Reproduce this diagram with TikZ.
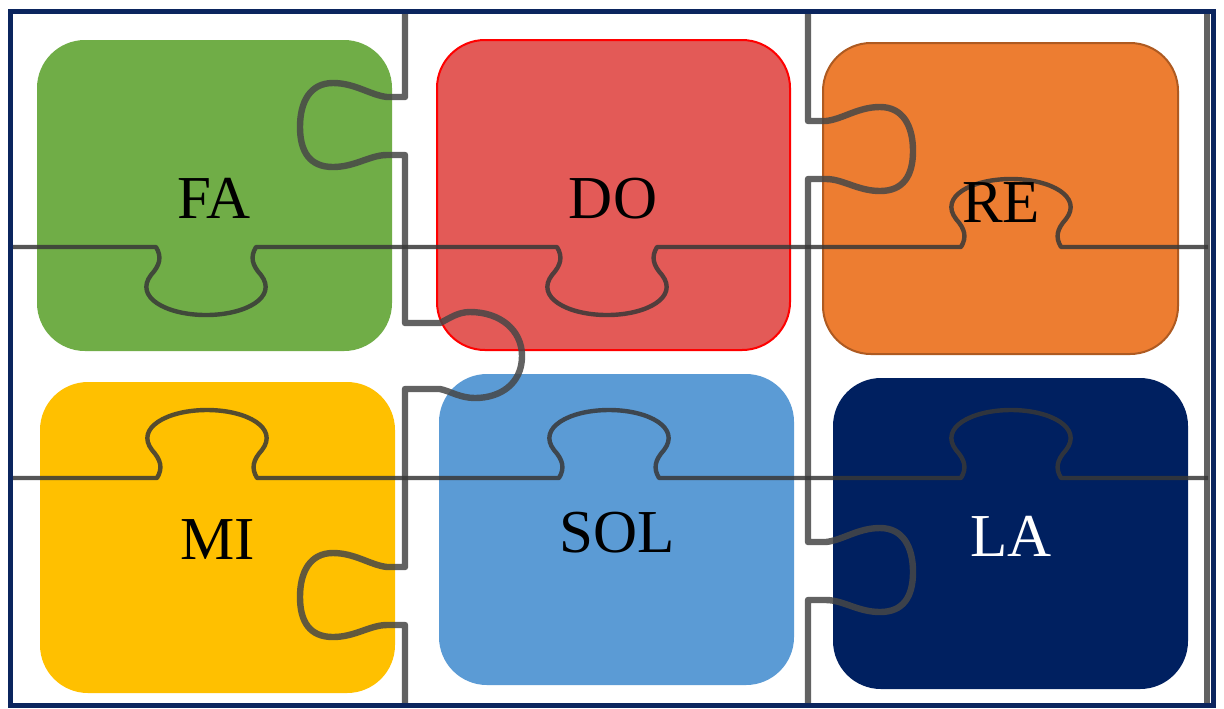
\documentclass[tikz,border=0pt]{standalone}
\usepackage{fontspec}
\setmainfont{Liberation Serif}
\definecolor{cgreen}{HTML}{70AD47}
\definecolor{cred}{HTML}{E35A57}
\definecolor{credline}{HTML}{FF0000}
\definecolor{corange}{HTML}{ED7D31}
\definecolor{corangeline}{HTML}{AE5A21}
\definecolor{cyellow}{HTML}{FFC000}
\definecolor{cblue}{HTML}{5B9BD5}
\definecolor{cnavy}{HTML}{002060}
\definecolor{cborder}{HTML}{0B255E}
\begin{document}
\begin{tikzpicture}[x=0.5pt,y=-0.5pt,
  piece/.style={rounded corners=24pt},
  hline/.style={draw=black!78, line width=2.2pt, opacity=0.85, line join=round},
  vline/.style={draw=black!72, line width=3.2pt, opacity=0.85, line join=round},
  lbl/.style={font=\fontsize{30.5}{36}\selectfont, inner sep=0pt, anchor=base},
  hjig/.style n args={3}{insert path={
    -- ({#1-50},#2)
    .. controls ({#1-44},{#2+10*(#3)}) and ({#1-46},{#2+18*(#3)}) .. ({#1-55},{#2+28*(#3)})
    .. controls ({#1-72},{#2+50*(#3)}) and ({#1-40},{#2+68*(#3)}) .. ({#1},{#2+68*(#3)})
    .. controls ({#1+40},{#2+68*(#3)}) and ({#1+72},{#2+50*(#3)}) .. ({#1+55},{#2+28*(#3)})
    .. controls ({#1+46},{#2+18*(#3)}) and ({#1+44},{#2+10*(#3)}) .. ({#1+50},#2)}},
  vjig/.style n args={3}{insert path={
    -- (#1,{#2-30}) -- ({#1+18*(#3)},{#2-30})
    .. controls ({#1+35*(#3)},{#2-32}) and ({#1+50*(#3)},{#2-44}) .. ({#1+72*(#3)},{#2-44})
    .. controls ({#1+95*(#3)},{#2-44}) and ({#1+105*(#3)},{#2-25}) .. ({#1+105*(#3)},{#2})
    .. controls ({#1+105*(#3)},{#2+25}) and ({#1+95*(#3)},{#2+40}) .. ({#1+72*(#3)},{#2+40})
    .. controls ({#1+50*(#3)},{#2+40}) and ({#1+35*(#3)},{#2+28}) .. ({#1+18*(#3)},{#2+28})
    -- (#1,{#2+28})}}
]
\useasboundingbox (0,0) rectangle (1224,708);
\fill[white] (0,0) rectangle (1224,708);

% pieces
\fill[piece, cgreen] (37,40) rectangle (392,351);
\filldraw[piece, fill=cred, draw=credline, line width=1pt] (437,40) rectangle (790,350);
\filldraw[piece, fill=corange, draw=corangeline, line width=1pt] (823,43) rectangle (1178,354);
\fill[piece, cyellow] (40,382) rectangle (395,693);
\fill[piece, cblue] (439,374) rectangle (794,685);
\fill[piece, cnavy] (833,378) rectangle (1188,689);

% puzzle cut lines
\draw[vline] (405,12) [vjig={405}{127}{-1}] -- (405,323) -- (440,323)
  .. controls (450,318) and (458,312) .. (470,312)
  .. controls (500,312) and (522,330) .. (522,356)
  .. controls (522,384) and (500,398) .. (475,398)
  .. controls (460,398) and (450,391) .. (440,389) -- (405,389)
  [vjig={405}{597}{-1}] -- (405,705);
\draw[vline] (808,12) [vjig={808}{151}{1}] [vjig={808}{572}{1}] -- (808,705);
\draw[vline] (1207,12) -- (1207,705);
\draw[hline] (12,247) [hjig={206}{247}{1}] [hjig={607}{247}{1}] [hjig={1011}{247}{-1}] -- (1208,247);
\draw[hline] (12,478) [hjig={207}{478}{-1}] [hjig={609}{478}{-1}] [hjig={1011}{478}{-1}] -- (1208,478);

% outer border
\draw[cborder, line width=2.5pt] (10,11) rectangle (1213,705);

% labels
\node[lbl] (fa) at (214,218) {FA};
\node[lbl] (do) at (613,218) {DO};
\node[lbl] (re) at (1001,222) {RE};
\node[lbl] (mi) at (218,559) {MI};
\node[lbl] (sol) at (617,552) {SOL};
\node[lbl, text=white] (la) at (1011,556) {LA};
\end{tikzpicture}
\end{document}
